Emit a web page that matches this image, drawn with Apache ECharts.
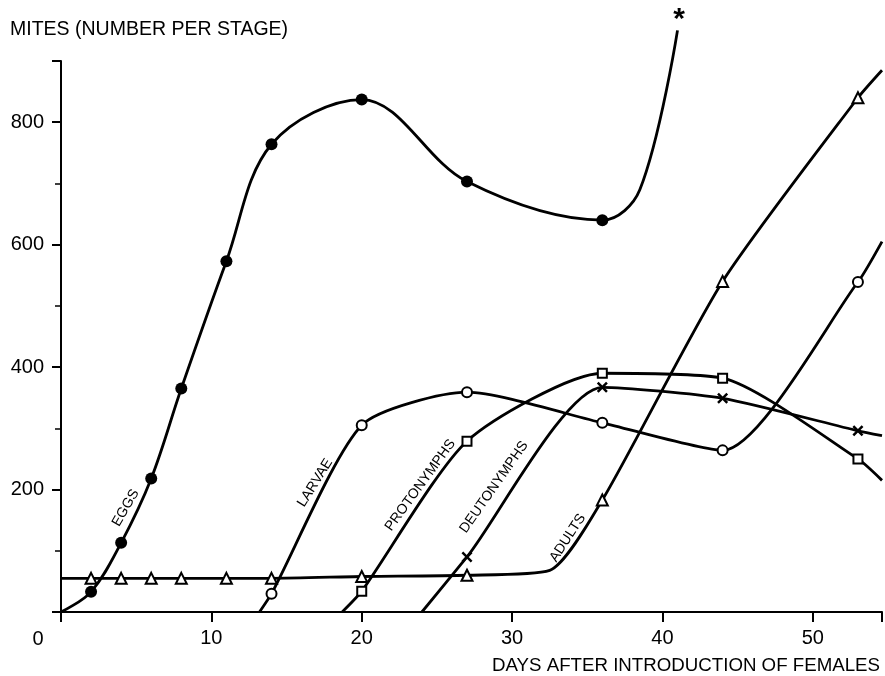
<!DOCTYPE html>
<html>
<head>
<meta charset="utf-8">
<script src="https://cdn.jsdelivr.net/npm/echarts@6/dist/echarts.min.js"></script>
<style>html,body{margin:0;padding:0;background:#fff}#c{width:885px;height:676px}</style>
</head>
<body>
<div id="c"></div>
<script>
// ---------- data ----------
const yTickLabels = [200, 400, 600, 800];
const xTickLabels = [10, 20, 30, 40, 50];

// 1 = sampled point (marker drawn), 0 = point on the drawn curve without marker
const eggDays    = [0, 2, 4, 6, 8, 11, 14, 20, 27, 36, 38.5, 41];
const eggCounts  = [0, 33, 113, 218, 365, 573, 764, 837, 703, 640, 690, 950];
const eggMarked  = [0, 1, 1, 1, 1, 1, 1, 1, 1, 1, 0, 0];

const larvaeDays   = [13.2, 14, 20, 27, 36, 44, 53, 54.6];
const larvaeCounts = [0, 30, 305, 359, 309, 264, 539, 605];
const larvaeMarked = [0, 1, 1, 1, 1, 1, 1, 0];

const protoDays   = [18.7, 20, 27, 36, 44, 53, 54.6];
const protoCounts = [0, 34, 279, 390, 382, 250, 215];
const protoMarked = [0, 1, 1, 1, 1, 1, 0];

const deutoDays   = [24, 27, 36, 44, 53, 54.6];
const deutoCounts = [0, 90, 367, 349, 296, 288];
const deutoMarked = [0, 1, 1, 1, 1, 0];

const adultDays   = [0, 2, 4, 6, 8, 11, 14, 20, 27, 32.5, 36, 44, 53, 54.6];
const adultCounts = [55, 55, 55, 55, 55, 55, 55, 58, 60, 68, 183, 540, 840, 885];
const adultMarked = [0, 1, 1, 1, 1, 1, 1, 1, 1, 0, 1, 1, 1, 0];

const curveLabels = ['EGGS', 'LARVAE', 'PROTONYMPHS', 'DEUTONYMPHS', 'ADULTS'];
const curveLabelAt = [[4.3, 170], [16.9, 211], [23.9, 207], [28.8, 204], [33.7, 121]];
const curveLabelAngle = [60, 58, 54, 55, 57];

// ---------- chart ----------
const FONT = '"Liberation Sans", Arial, sans-serif';
const INK = '#000';

function build(days, counts, marked) {
  return days.map((d, i) => marked[i] ? { value: [d, counts[i]] } : { value: [d, counts[i]], symbol: 'none' });
}

const crossPath = 'path://M0,1.6L1.6,0L5,3.4L8.4,0L10,1.6L6.6,5L10,8.4L8.4,10L5,6.6L1.6,10L0,8.4L3.4,5Z';

function lineSeries(name, data, extra) {
  return Object.assign({
    name: name,
    type: 'line',
    data: data,
    smooth: 0.22,
    silent: true,
    lineStyle: { color: INK, width: 2.8 },
    itemStyle: { color: INK, borderColor: INK, borderWidth: 1.7 },
    emphasis: { disabled: true },
    z: 2
  }, extra);
}

const chart = echarts.init(document.getElementById('c'), null, { renderer: 'canvas' });

chart.setOption({
  animation: false,
  backgroundColor: '#fff',
  title: [
    { text: 'MITES (NUMBER PER STAGE)', left: 5, top: 15,
      textStyle: { fontFamily: FONT, fontSize: 19.5, fontWeight: 'normal', color: INK } },
    { text: 'DAYS AFTER INTRODUCTION OF FEMALES', right: 0, top: 651,
      textStyle: { fontFamily: FONT, fontSize: 18.7, fontWeight: 'normal', color: INK } }
  ],
  grid: { left: 61, right: 0, top: 61, bottom: 64 },
  xAxis: {
    type: 'value', min: 0, max: 54.6, interval: 10,
    axisLine: { show: true, onZero: true, lineStyle: { color: INK, width: 2 } },
    axisTick: { show: true, length: 10, lineStyle: { color: INK, width: 2 } },
    axisLabel: {
      formatter: v => xTickLabels.includes(v) ? String(v) : '',
      fontFamily: FONT, fontSize: 20, color: INK, margin: 16
    },
    splitLine: { show: false }
  },
  yAxis: {
    type: 'value', min: 0, max: 900, interval: 200,
    axisLine: { show: true, lineStyle: { color: INK, width: 2 } },
    axisTick: { show: true, length: 9, lineStyle: { color: INK, width: 2 } },
    minorTick: { show: true, splitNumber: 2, length: 6, lineStyle: { color: INK, width: 1.5 } },
    axisLabel: {
      formatter: v => yTickLabels.includes(v) ? String(v) : '',
      fontFamily: FONT, fontSize: 20, color: INK, margin: 17
    },
    splitLine: { show: false },
    minorSplitLine: { show: false }
  },
  series: [
    lineSeries('Adults', build(adultDays, adultCounts, adultMarked), { symbol: 'emptyTriangle', symbolSize: 11 }),
    lineSeries('Deutonymphs', build(deutoDays, deutoCounts, deutoMarked), { symbol: crossPath, symbolSize: 11, itemStyle: { color: INK, borderWidth: 0 } }),
    lineSeries('Protonymphs', build(protoDays, protoCounts, protoMarked), { symbol: 'emptyRect', symbolSize: 9 }),
    lineSeries('Larvae', build(larvaeDays, larvaeCounts, larvaeMarked), { symbol: 'emptyCircle', symbolSize: 10 }),
    lineSeries('Eggs', build(eggDays, eggCounts, eggMarked), { symbol: 'circle', symbolSize: 12, smooth: 0.35, clip: false, itemStyle: { color: INK, borderWidth: 0 } })
  ]
});

// annotations placed at data positions
const g = [];
curveLabels.forEach((t, i) => {
  const p = chart.convertToPixel({ gridIndex: 0 }, curveLabelAt[i]);
  g.push({
    type: 'text', x: p[0], y: p[1], rotation: curveLabelAngle[i] * Math.PI / 180,
    style: { text: t, font: '14px ' + FONT, fill: INK,
             textAlign: 'center', textVerticalAlign: 'middle', align: 'center', verticalAlign: 'middle' },
    silent: true, z: 10
  });
});
const star = chart.convertToPixel({ gridIndex: 0 }, [41.1, 978]);
g.push({ type: 'text', x: star[0], y: star[1] + 6,
  style: { text: '*', font: 'bold 30px ' + FONT, fill: INK,
           textAlign: 'center', textVerticalAlign: 'middle', align: 'center', verticalAlign: 'middle' },
  silent: true, z: 10 });
const origin = chart.convertToPixel({ gridIndex: 0 }, [0, 0]);
g.push({ type: 'text', x: origin[0] - 23, y: origin[1] + 27,
  style: { text: '0', font: '20px ' + FONT, fill: INK,
           textAlign: 'center', textVerticalAlign: 'middle', align: 'center', verticalAlign: 'middle' },
  silent: true, z: 10 });
chart.setOption({ graphic: g });
</script>
</body>
</html>
